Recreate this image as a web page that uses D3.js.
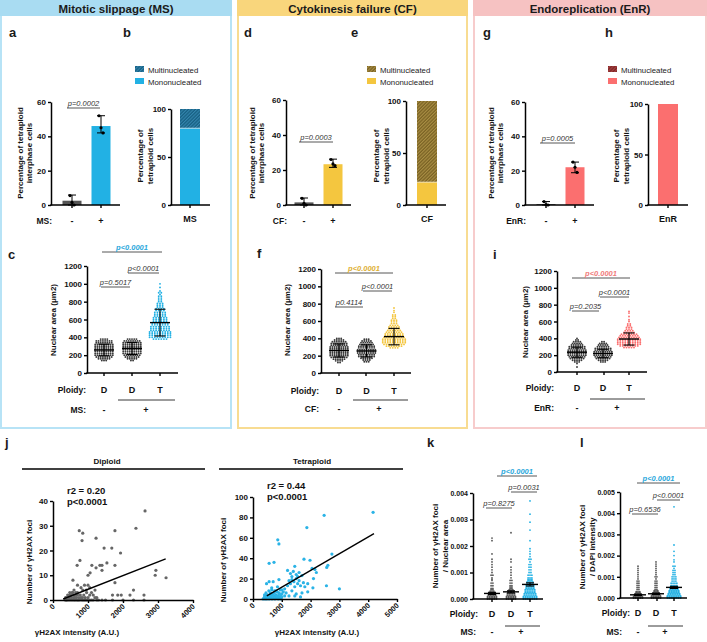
<!DOCTYPE html>
<html>
<head>
<meta charset="utf-8">
<script src="https://cdn.jsdelivr.net/npm/d3@7"></script>
<style>
body { margin: 0; background: #fff; }
svg { display: block; }
</style>
</head>
<body>
<script>
/* ---------- data ---------- */
const treatCats = ["-", "+"];
const groupCats = ["D1", "D2", "T"];
const ploidyLabels = ["D", "D", "T"];

/* a, d, g : % tetraploid interphase cells (mean, error range, replicate dots) */
const msBarMean = [2.5, 46], msBarLo = [0, 42], msBarHi = [5.8, 52];
const msBarDots = [[5.5, 1.5, 0], [52, 45, 42]];
const cfBarMean = [1.5, 23.3], cfBarLo = [0, 21.5], cfBarHi = [4, 26.2];
const cfBarDots = [[3.8, 1, 0], [26, 23.5, 22.5]];
const enrBarMean = [0.5, 22], enrBarLo = [0, 18.8], enrBarHi = [2, 25];
const enrBarDots = [[2, 0.3, 0], [25, 22, 19]];

/* b, e, h : stacked % of tetraploid cells */
const stackCats = ["MS", "CF", "EnR"];
const stackMono = [80, 22, 100];
const stackMulti = [20, 78, 0];

/* c, f, i : nuclear area, rows of dots "value:count" */
const cD1 = "140:3,160:6,180:8,200:9,220:9,240:9,260:9,280:9,300:9,320:9,340:8,360:8,380:4";
const cD2 = "140:2,160:5,180:7,200:8,220:9,240:9,260:9,280:9,300:9,320:9,340:9,360:8,380:5";
const cT = "380:6,400:9,420:9,440:9,460:9,480:8,500:8,520:8,540:7,560:7,580:6,600:6,620:6,640:5,660:5,680:5,700:4,720:4,740:3,760:3,780:3,800:2,820:2,840:2,860:2,880:1,900:2,920:1,960:1,1000:1";
const fD1 = "120:2,140:4,160:6,180:8,200:9,220:9,240:9,260:9,280:9,300:9,320:8,340:8,360:7,380:5,400:3";
const fD2 = "130:3,150:4,170:6,190:8,210:8,230:9,250:9,270:9,290:8,310:8,330:7,350:6,370:5,390:3";
const fT = "290:4,310:7,330:9,350:10,370:10,390:10,410:9,430:8,450:8,470:7,490:6,510:5,530:5,550:4,570:3,590:3,610:3,630:2,650:2,670:2,700:1,720:1,750:1";
const iD1 = "60:1,100:1,120:3,140:5,160:7,180:8,200:9,220:9,240:9,260:9,280:8,300:8,320:6,340:5,360:4,380:2,400:1";
const iD2 = "120:3,140:5,160:7,180:8,200:9,220:9,240:9,260:8,280:8,300:6,320:5,340:4,360:2";
const iT = "290:5,310:8,330:10,350:10,370:10,390:10,410:9,430:8,450:7,470:5,490:4,510:3,530:3,550:2,570:2,600:1,620:1,660:1,700:1,720:1";
const cMean = [258, 275, 565], cSd = [65, 68, 150];
const fMean = [260, 255, 420], fSd = [75, 70, 95];
const iMean = [235, 220, 392], iSd = [60, 50, 72];

/* j : gammaH2AX intensity vs foci */
const dipPts = [[350,0],[380,1],[400,0],[420,2],[450,0],[460,1],[480,3],[500,0],[520,1],[530,2],[550,0],[560,3],[580,1],[600,0],[610,2],[620,1],[640,0],[650,3],[670,1],[690,0],[700,2],[720,0],[740,1],[760,0],[780,2],[800,1],[820,0],[840,1],[860,0],[880,2],[900,0],[920,1],[940,0],[960,3],[980,0],[1000,1],[1050,0],[1100,0],[1150,0],[1200,1],[1250,0],[1300,0],[1400,0],[1500,0],[1700,0],[2000,0],[2300,0],[2600,0],[600,4],[650,2],[700,3],[550,3],[480,2],[430,1],[380,0],[360,1],
  [750,28],[850,27],[830,24],[1230,25],[2630,36],[2370,29],[1770,28],[1680,21],[1460,21],[1930,19],[1540,15],[770,16],[690,14],[1110,14],[1340,14],[1400,14],[1770,14],[1060,11],[1000,10],[1230,13],[1400,12],[2940,12],[2920,10],[3230,9],[1770,7],[570,8],[700,6],[900,6],[1000,6],[800,5],[850,4],[1200,4],[2300,4],[1100,3],[1700,2],[1850,2],[1950,2],[2200,2],[2600,2],[1050,2],[1150,2],[1250,1],[950,4],[1050,5]];
const tetPts = [[2470,82],[1870,70],[860,58],[900,54],[4170,85],[730,36],[560,35],[1770,39],[1980,38],[2740,44],[2600,33],[2560,31],[2050,30],[2150,29],[2200,26],[1200,28],[1300,25],[1450,32],[1400,27],[1350,22],[1500,20],[1600,18],[1700,23],[1420,17],[1300,15],[1200,13],[1100,10],[1000,5],[900,19],[700,17],[560,17],[470,15],[3000,10],[2550,13],[2080,11],[1800,12],[1900,15],[1650,13],[1550,15],[1450,12],[1100,3],[1250,3],[1500,5],[1650,2],[850,12],[650,11],[750,8],[600,6],[1550,22],[1600,26],[1350,19],[1500,24],[1750,16],[1250,18],[2100,20],[950,9],[1050,7],[1150,6],[1350,8],[1450,3],[1700,6],[1900,7],
  [350,0],[380,1],[400,2],[420,0],[440,3],[460,1],[480,0],[500,4],[520,2],[540,1],[560,0],[580,3],[600,1],[620,5],[640,2],[660,0],[680,4],[700,1],[720,3],[740,6],[760,0],[780,2],[800,4],[820,1],[840,7],[860,3],[880,0],[900,2],[920,5],[940,1],[960,3],[980,0],[1000,2],[450,6],[550,8],[650,9],[600,3],[700,5],[800,8],[500,1],[400,4],[900,6],[1000,9]];
const dipFit = [[290, 0.4], [3220, 16.6]];
const tetFit = [[480, 3], [4200, 64]];

/* k, l : foci per nuclear area / DAPI intensity, units of 1e-4 "value:count" */
const kD1 = "0:6,0.5:6,1:6,1.5:5,2:5,2.5:4,3:3,3.5:2,4:2,5:2,6:2,7:1,7.5:1,8:1,9:2,10:1,11:1,12:1,13:1,14:1,15:1,17:1,22:1,23:1";
const kD2 = "0:6,0.5:6,1:6,1.5:5,2:5,2.5:4,3:4,3.5:3,4:2,4.5:2,5:2,6:2,7:2,8:1,9:1,10:1,11:1,12:1,14:1,15:1,25:1";
const kT = "0:8,0.5:8,1:8,1.5:7,2:7,2.5:6,3:6,3.5:6,4:5,4.5:5,5:5,5.5:4,6:4,6.5:4,7:3,7.5:3,8:3,9:3,10:2,11:2,12:2,13:2,14:1,15:2,16:1,17:1,18:1,19:1,22:1,26:1,29:1,32:1,37:1";
const lD1 = "0:6,0.5:6,1:5,1.5:5,2:4,2.5:3,3:3,4:2,5:2,6:2,7:2,8:2,9:1,10:1,11:1,12:1,13:1,14:1,15:1";
const lD2 = "0:6,0.5:6,1:6,1.5:5,2:5,2.5:4,3:3,3.5:3,4:2,5:2,6:2,7:2,8:2,9:1,10:2,11:1,12:1,13:1,14:1,15:1,16:1,17:1";
const lT = "0:8,0.5:8,1:8,1.5:7,2:7,2.5:6,3:6,3.5:6,4:5,4.5:5,5:5,5.5:4,6:4,7:4,8:3,9:3,10:3,11:2,12:2,13:2,14:1,15:2,17:1,18:1,20:1,22:1,25:1,43:1";
const kMean = [2.1, 2.7, 5.5], kSem = [0.4, 0.4, 0.6];
const lMean = [1.5, 2.0, 5.0], lSem = [0.3, 0.3, 0.5];

/* ---------- styles ---------- */
const FONT = '"Liberation Sans", Arial, Helvetica, sans-serif';
const MS = "#22b1e4", CF = "#f4c63f", ENR = "#fb6f6f";
const DOT = "#3a3a3a";

const svg = d3.select("body").append("svg")
    .attr("width", 707).attr("height", 642)
    .style("font-family", FONT);
const defs = svg.append("defs");

function parseBins(s, k) {
    return s.split(",").map(p => { const q = p.split(":").map(Number); return [q[0] * (k || 1), q[1]]; });
}

function txt(x, y, s, o = {}) {
    return svg.append("text").attr("x", x).attr("y", y).text(s)
        .attr("font-size", o.size || 8)
        .attr("font-weight", o.bold === false ? "normal" : "bold")
        .attr("font-style", o.italic ? "italic" : null)
        .attr("text-anchor", o.anchor || "middle")
        .attr("fill", o.fill || "#111");
}

function vtxt(x, y, s, size) {
    svg.append("text").attr("transform", `translate(${x},${y}) rotate(-90)`)
        .attr("text-anchor", "middle").attr("dominant-baseline", "central")
        .attr("font-size", size || 8).attr("font-weight", "bold").attr("fill", "#111").text(s);
}

function ln(x1, y1, x2, y2, col, w) {
    return svg.append("line").attr("x1", x1).attr("y1", y1).attr("x2", x2).attr("y2", y2)
        .attr("stroke", col || "#000").attr("stroke-width", w || 1.4);
}

function yAxis(x, y, ticks, fmt, size) {
    const g = svg.append("g").attr("transform", `translate(${x},0)`)
        .call(d3.axisLeft(y).tickValues(ticks).tickSize(3).tickSizeOuter(0).tickPadding(2)
            .tickFormat(fmt || d3.format("d")));
    g.attr("font-family", FONT).attr("font-size", size || 8);
    g.select(".domain").attr("stroke", "#000").attr("stroke-width", 1.5);
    g.selectAll(".tick line").attr("stroke", "#000").attr("stroke-width", 1.4);
    g.selectAll(".tick text").attr("font-weight", "bold").attr("fill", "#111");
}

function xBase(x0, x1, y0, ticks) {
    ln(x0 - 0.75, y0, x1, y0, "#000", 1.5);
    ticks.forEach(t => ln(t, y0, t, y0 + 3));
}

function pLine(x1, x2, y, s, col) {
    ln(x1, y, x2, y, "#444", 0.9);
    txt((x1 + x2) / 2, y - 2.5, s, { size: 7.5, bold: !!col, italic: true, fill: col || "#333" });
}

function hatch(id, base, stripe) {
    const p = defs.append("pattern").attr("id", id).attr("patternUnits", "userSpaceOnUse")
        .attr("width", 2.4).attr("height", 2.4).attr("patternTransform", "rotate(45)");
    p.append("rect").attr("width", 2.4).attr("height", 2.4).attr("fill", base);
    p.append("line").attr("x1", 0.6).attr("y1", 0).attr("x2", 0.6).attr("y2", 2.4)
        .attr("stroke", stripe).attr("stroke-width", 0.9);
}
hatch("hMS", "#175f82", "#3a8fb8");
hatch("hCF", "#7a6224", "#b59a4c");
hatch("hEnR", "#7e2626", "#b04848");

/* ---------- boxes + headers ---------- */
const boxes = [
    { x: 1, w: 230, title: "Mitotic slippage (MS)", band: "#a9dcf2", edge: "#b7e3f6" },
    { x: 238, w: 229, title: "Cytokinesis failure (CF)", band: "#f9d67c", edge: "#f8dc92" },
    { x: 474, w: 232, title: "Endoreplication (EnR)", band: "#f6c2c2", edge: "#f7cccc" }
];
boxes.forEach(b => {
    svg.append("rect").attr("x", b.x).attr("y", 1).attr("width", b.w).attr("height", 427)
        .attr("fill", "none").attr("stroke", b.edge).attr("stroke-width", 2);
    svg.append("rect").attr("x", b.x - 1).attr("y", 0).attr("width", b.w + 2).attr("height", 16)
        .attr("fill", b.band);
    txt(b.x + b.w / 2, 12.5, b.title, { size: 11.5, fill: "#1a1a1a" });
});

/* panel letters */
[["a", 9, 37], ["b", 123, 37], ["c", 8, 259], ["d", 244, 37], ["e", 351, 37], ["f", 257, 258],
 ["g", 483, 37], ["h", 605, 37], ["i", 493, 259], ["j", 5, 447], ["k", 427, 447], ["l", 580, 447]]
    .forEach(d => txt(d[1], d[2], d[0], { size: 13, anchor: "start", fill: "#1a1a1a" }));

/* ---------- a, d, g bar panels ---------- */
function barPanel(o) {
    const y = d3.scaleLinear().domain([0, 60]).range([205, o.top]);
    const x = d3.scalePoint().domain(treatCats).range(o.pos);
    treatCats.forEach((c, i) => {
        const cx = x(c);
        svg.append("rect").attr("x", cx - 9.5).attr("width", 19)
            .attr("y", y(o.mean[i])).attr("height", y(0) - y(o.mean[i]))
            .attr("fill", i === 0 ? "#555" : o.color);
        ln(cx, y(o.lo[i]), cx, y(o.hi[i]), "#000", 1);
        ln(cx - 4, y(o.hi[i]), cx + 4, y(o.hi[i]), "#000", 1);
        ln(cx - 4, y(o.lo[i]), cx + 4, y(o.lo[i]), "#000", 1);
        o.dots[i].forEach((v, k) => svg.append("circle")
            .attr("cx", cx + (k - 1) * 2).attr("cy", y(v)).attr("r", 1.6).attr("fill", "#000"));
        txt(cx, 224, c, { size: 9 });
    });
    yAxis(o.axisX, y, [0, 20, 40, 60]);
    xBase(o.axisX, o.endX, 205, o.pos);
    txt(o.axisX + 1, 224, o.treat, { size: 8.5, anchor: "end" });
    pLine(o.p[0], o.p[1], o.p[2], o.pTxt);
    vtxt(o.labX, 153, "Percentage of tetraploid", 8);
    vtxt(o.labX + 9.5, 153, "interphase cells", 8);
}
barPanel({ axisX: 51, top: 102, pos: [72, 101], endX: 120, color: MS, mean: msBarMean, lo: msBarLo, hi: msBarHi,
    dots: msBarDots, treat: "MS:", p: [67, 100, 108], pTxt: "p=0.0002", labX: 20 });
barPanel({ axisX: 286, top: 100, pos: [304, 333], endX: 351, color: CF, mean: cfBarMean, lo: cfBarLo, hi: cfBarHi,
    dots: cfBarDots, treat: "CF:", p: [299, 333, 142], pTxt: "p=0.0003", labX: 252 });
barPanel({ axisX: 525, top: 102, pos: [546, 575], endX: 594, color: ENR, mean: enrBarMean, lo: enrBarLo, hi: enrBarHi,
    dots: enrBarDots, treat: "EnR:", p: [540, 575, 143], pTxt: "p=0.0005", labX: 491 });

/* ---------- b, e, h stacked panels ---------- */
function stackPanel(o) {
    const i = stackCats.indexOf(o.cat);
    const y = d3.scaleLinear().domain([0, 100]).range([205, o.top]);
    const mono = stackMono[i], multi = stackMulti[i];
    svg.append("rect").attr("x", o.cx - 10).attr("width", 20).attr("y", y(mono)).attr("height", y(0) - y(mono))
        .attr("fill", o.color);
    if (multi > 0) {
        svg.append("rect").attr("x", o.cx - 10).attr("width", 20).attr("y", y(mono + multi))
            .attr("height", y(mono) - y(mono + multi)).attr("fill", `url(#${o.pat})`);
        ln(o.cx - 10, y(mono), o.cx + 10, y(mono), "#fff", 0.6);
    }
    yAxis(o.axisX, y, [0, 50, 100]);
    xBase(o.axisX, o.endX, 205, [o.cx]);
    txt(o.cx, 222, o.cat, { size: 9 });
    vtxt(o.labX, 156, "Percentage of", 8);
    vtxt(o.labX + 10, 156, "tetraploid cells", 8);
    // legend
    svg.append("rect").attr("x", o.legX).attr("y", 66).attr("width", 9).attr("height", 6).attr("fill", `url(#${o.pat})`);
    svg.append("rect").attr("x", o.legX).attr("y", 78).attr("width", 9).attr("height", 6).attr("fill", o.color);
    txt(o.legX + 13, 72.5, "Multinucleated", { size: 7.8, bold: false, anchor: "start", fill: "#222" });
    txt(o.legX + 13, 84.5, "Mononucleated", { size: 7.8, bold: false, anchor: "start", fill: "#222" });
}
stackPanel({ cat: "MS", axisX: 171, top: 109, cx: 190, endX: 210, color: MS, pat: "hMS", labX: 140, legX: 135 });
stackPanel({ cat: "CF", axisX: 406, top: 101, cx: 427, endX: 446, color: CF, pat: "hCF", labX: 376, legX: 367 });
stackPanel({ cat: "EnR", axisX: 648, top: 104, cx: 668, endX: 688, color: ENR, pat: "hEnR", labX: 616, legX: 608 });

/* ---------- dot-plot panels (c, f, i, k, l) ---------- */
function dotPanel(o) {
    const y = d3.scaleLinear().domain(o.domain).range(o.range);
    const x = d3.scalePoint().domain(groupCats).range([o.pos[0], o.pos[2]]);
    groupCats.forEach((g, gi) => {
        const cx = x(g);
        const pts = [];
        parseBins(o.bins[gi], o.unit).forEach(([v, n]) => {
            for (let k = 0; k < n; k++) pts.push({ v: v, dx: (k - (n - 1) / 2) * o.sp[gi] });
        });
        svg.append("g").selectAll("circle").data(pts).join("circle")
            .attr("cx", d => cx + d.dx).attr("cy", d => y(d.v))
            .attr("r", o.r).attr("fill", gi === 2 ? o.color : o.dotCol);
        const m = o.mean[gi] * o.unit, e = o.err[gi] * o.unit;
        ln(cx - o.mw / 2, y(m), cx + o.mw / 2, y(m), "#000", 1.4);
        ln(cx, y(m - e), cx, y(m + e), "#000", 1.1);
        ln(cx - o.cw / 2, y(m - e), cx + o.cw / 2, y(m - e), "#000", 1.1);
        ln(cx - o.cw / 2, y(m + e), cx + o.cw / 2, y(m + e), "#000", 1.1);
        txt(cx, o.ploidyY, ploidyLabels[gi], { size: 9 });
    });
    yAxis(o.axisX, y, o.ticks, o.fmt, o.tickSize);
    xBase(o.axisX, o.endX, o.range[0], o.pos);
    txt(o.ploidyRight, o.ploidyY, "Ploidy:", { size: 8.5, anchor: "end" });
    ln(o.lineX[0], o.lineY, o.lineX[1], o.lineY, "#222", 0.9);
    txt(o.ploidyRight - (o.treatShift || 0), o.treatY, o.treat, { size: 8.5, anchor: "end" });
    txt(o.treatPos[0], o.treatY, "-", { size: 9 });
    txt(o.treatPos[1], o.treatY, "+", { size: 9 });
    pLine(o.pTop[0], o.pTop[1], o.pTop[2], "p<0.0001", o.pCol);
    pLine(o.pMid[0], o.pMid[1], o.pMid[2], o.pMidTxt || "p<0.0001");
    pLine(o.pLow[0], o.pLow[1], o.pLow[2], o.pLowTxt);
    o.ylab.forEach((s, k) => vtxt(o.ylabX[k], o.ylabY, s, 8));
}

const areaTicks = [0, 200, 400, 600, 800, 1000, 1200];
dotPanel({ domain: [0, 1200], range: [373, 266], ticks: areaTicks, unit: 1, pos: [104, 132, 160], axisX: 87, endX: 178,
    bins: [cD1, cD2, cT], mean: cMean, err: cSd, color: MS, dotCol: DOT, r: 0.95, sp: [2.2, 2.2, 2.6], mw: 20, cw: 11,
    ploidyRight: 86, ploidyY: 393, treatY: 413, lineY: 400, lineX: [118, 175], treat: "MS:", treatPos: [104, 146],
    pTop: [102, 162, 252], pCol: "#2aa8dc", pMid: [128, 159, 273], pLow: [101, 130, 287], pLowTxt: "p=0.5017",
    ylab: ["Nuclear area (\u03bcm2)"], ylabX: [53], ylabY: 320 });
dotPanel({ domain: [0, 1200], range: [373, 269], ticks: areaTicks, unit: 1, pos: [339, 366, 394], axisX: 321, endX: 411,
    bins: [fD1, fD2, fT], mean: fMean, err: fSd, color: CF, dotCol: DOT, r: 0.95, sp: [2.2, 2.2, 2.5], mw: 20, cw: 11,
    ploidyRight: 319, ploidyY: 394, treatY: 412, lineY: 400, lineX: [353, 408], treat: "CF:", treatPos: [339, 379],
    pTop: [335, 393, 273], pCol: "#deb033", pMid: [363, 392, 291], pLow: [335, 363, 307], pLowTxt: "p0.4114",
    ylab: ["Nuclear area (\u03bcm2)"], ylabX: [287], ylabY: 320 });
dotPanel({ domain: [0, 1200], range: [372, 271], ticks: areaTicks, unit: 1, pos: [577, 604, 629], axisX: 557, endX: 647,
    bins: [iD1, iD2, iT], mean: iMean, err: iSd, color: ENR, dotCol: DOT, r: 0.95, sp: [2.2, 2.2, 2.5], mw: 20, cw: 11,
    ploidyRight: 554, ploidyY: 391, treatY: 411, lineY: 399, lineX: [590, 645], treat: "EnR:", treatPos: [577, 617],
    pTop: [572, 630, 278], pCol: "#f07b7b", pMid: [600, 629, 297], pLow: [572, 599, 311], pLowTxt: "p=0.2035",
    ylab: ["Nuclear area (\u03bcm2)"], ylabX: [525], ylabY: 322 });

dotPanel({ domain: [0, 0.004], range: [599, 493], ticks: [0, 0.001, 0.002, 0.003, 0.004], fmt: d3.format(".3f"), tickSize: 7,
    unit: 1e-4, pos: [492, 512, 530], axisX: 473, endX: 543,
    bins: [kD1, kD2, kT], mean: kMean, err: kSem, color: MS, dotCol: "#555", r: 0.9, sp: [1.8, 1.8, 1.9], mw: 16, cw: 8,
    ploidyRight: 478, ploidyY: 617, treatY: 635, treatShift: 2, lineY: 626, lineX: [505, 540], treat: "MS:", treatPos: [492, 521],
    pTop: [497, 537, 476], pCol: "#2aa8dc", pMid: [511, 537, 492], pMidTxt: "p=0.0031", pLow: [486, 512, 508], pLowTxt: "p=0.8275",
    ylab: ["Number of \u03b3H2AX foci", "/ Nuclear area"], ylabX: [435, 445], ylabY: 546 });
dotPanel({ domain: [0, 0.005], range: [598, 492], ticks: [0, 0.001, 0.002, 0.003, 0.004, 0.005], fmt: d3.format(".3f"), tickSize: 7,
    unit: 1e-4, pos: [638, 657, 674], axisX: 620, endX: 687,
    bins: [lD1, lD2, lT], mean: lMean, err: lSem, color: MS, dotCol: "#555", r: 0.9, sp: [1.8, 1.8, 1.9], mw: 16, cw: 8,
    ploidyRight: 630, ploidyY: 616, treatY: 635, treatShift: 8, lineY: 626, lineX: [648, 683], treat: "MS:", treatPos: [638, 665],
    pTop: [637, 680, 483], pCol: "#2aa8dc", pMid: [657, 680, 500], pLow: [632, 658, 514], pLowTxt: "p=0.6536",
    ylab: ["Number of \u03b3H2AX foci", "/ DAPI intensity"], ylabX: [582, 592], ylabY: 547 });

/* ---------- j scatter plots ---------- */
function scatter(o) {
    const x = d3.scaleLinear().domain([0, o.xMax]).range([o.axisX, o.xEnd]);
    const y = d3.scaleLinear().domain([0, o.yMax]).range([o.y0, o.yTop]);
    svg.append("g").selectAll("circle").data(o.pts).join("circle")
        .attr("cx", d => x(d[0])).attr("cy", d => y(d[1])).attr("r", 1.6).attr("fill", o.color);
    svg.append("path").datum(o.fit)
        .attr("d", d3.line().x(d => x(d[0])).y(d => y(d[1])))
        .attr("stroke", "#000").attr("stroke-width", 1.4).attr("fill", "none");
    yAxis(o.axisX, y, o.yTicks);
    const g = svg.append("g").attr("transform", `translate(0,${o.y0})`)
        .call(d3.axisBottom(x).tickValues(o.xTicks).tickSize(3).tickSizeOuter(0).tickFormat(d3.format("d")));
    g.attr("font-family", FONT).attr("font-size", 7.5);
    g.select(".domain").attr("stroke", "#000").attr("stroke-width", 1.5);
    g.selectAll(".tick line").attr("stroke", "#000").attr("stroke-width", 1.4);
    g.selectAll(".tick text").attr("font-weight", "bold").attr("fill", "#111")
        .attr("text-anchor", "end").attr("dy", null).attr("y", 0)
        .attr("transform", "translate(2,7) rotate(-45)");
    txt(o.titleX, 464, o.title, { size: 8 });
    ln(o.rule[0], 469, o.rule[1], 469, "#000", 1.3);
    txt(o.rX, o.rY, o.r2, { size: 9.5, anchor: "start" });
    txt(o.rX, o.rY + 10.5, "p<0.0001", { size: 9.5, anchor: "start" });
    vtxt(o.ylabX, o.ylabY, "Number of \u03b3H2AX foci", 8);
    txt(o.xlabX, 635, "\u03b3H2AX intensity (A.U.)", { size: 8 });
}
scatter({ pts: dipPts, fit: dipFit, color: "#666", axisX: 53, xEnd: 193, xMax: 4000, y0: 600, yTop: 501, yMax: 40,
    xTicks: [0, 1000, 2000, 3000, 4000], yTicks: [0, 10, 20, 30, 40], title: "Diploid", titleX: 107, rule: [22, 205],
    r2: "r2 = 0.20", rX: 67, rY: 494, ylabX: 29, ylabY: 562, xlabX: 77 });
scatter({ pts: tetPts, fit: tetFit, color: "#2ab3e6", axisX: 253, xEnd: 397, xMax: 5000, y0: 599, yTop: 497, yMax: 100,
    xTicks: [0, 1000, 2000, 3000, 4000, 5000], yTicks: [0, 20, 40, 60, 80, 100], title: "Tetraploid", titleX: 312, rule: [219, 403],
    r2: "r2 = 0.44", rX: 267, rY: 489, ylabX: 223, ylabY: 560, xlabX: 317 });
</script>
</body>
</html>
